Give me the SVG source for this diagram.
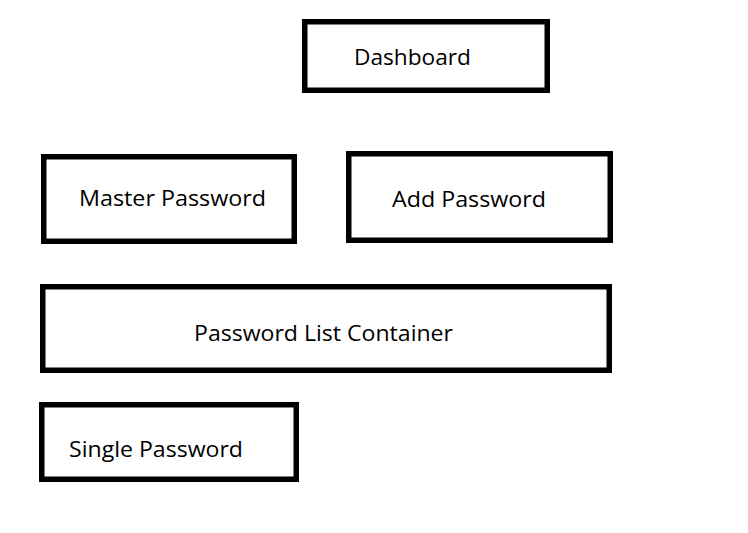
<svg xmlns="http://www.w3.org/2000/svg" width="748" height="533" viewBox="0 0 748 533">
<style>
.box{fill:#fff;stroke:#000;stroke-width:5.5}
.lbl{font-family:"Open Sans","Noto Sans",sans-serif;font-size:22px;fill:#000}
</style>
<rect width="748" height="533" fill="#fff"/>
<g id="connectors"></g>
<g id="dashboard">
<rect class="box" x="304.75" y="21.75" width="242.5" height="68.5"/>
<text class="lbl" x="354" y="65" textLength="117" lengthAdjust="spacingAndGlyphs">Dashboard</text>
</g>
<g id="master-password">
<rect class="box" x="43.75" y="156.75" width="250.5" height="84.5"/>
<text class="lbl" x="79" y="206" textLength="187" lengthAdjust="spacingAndGlyphs">Master Password</text>
</g>
<g id="add-password">
<rect class="box" x="348.75" y="153.75" width="261.5" height="86.5"/>
<text class="lbl" x="392" y="207" textLength="154" lengthAdjust="spacingAndGlyphs">Add Password</text>
</g>
<g id="password-list-container">
<rect class="box" x="42.75" y="286.75" width="566.5" height="83.5"/>
<text class="lbl" x="194" y="341" textLength="259" lengthAdjust="spacingAndGlyphs">Password List Container</text>
</g>
<g id="single-password">
<rect class="box" x="41.75" y="404.75" width="254.5" height="74.5"/>
<text class="lbl" x="69" y="457" textLength="174" lengthAdjust="spacingAndGlyphs">Single Password</text>
</g>
</svg>
